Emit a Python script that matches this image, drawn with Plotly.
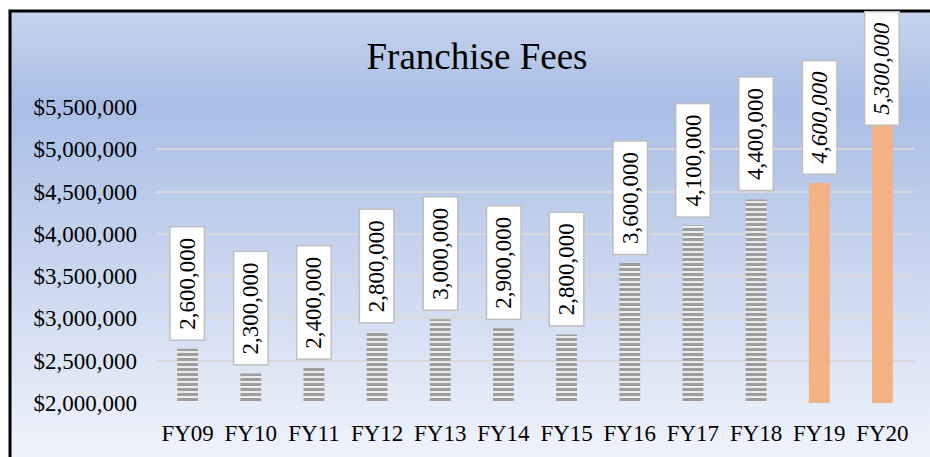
import base64
import plotly.graph_objects as go

# ---- data ----
categories = ["FY09", "FY10", "FY11", "FY12", "FY13", "FY14", "FY15", "FY16", "FY17", "FY18", "FY19", "FY20"]
fees = [2640000, 2350000, 2420000, 2840000, 2990000, 2885000, 2810000, 3655000, 4100000, 4405000, 4600000, 5300000]
label_texts = ["2,600,000", "2,300,000", "2,400,000", "2,800,000", "3,000,000", "2,900,000",
               "2,800,000", "3,600,000", "4,100,000", "4,400,000", "4,600,000", "5,300,000"]
is_forecast = [False] * 10 + [True] * 2
y_range = [2000000, 5500000]
y_dtick = 500000

# ---- layout geometry (pixels) ----
FW, FH = 930, 457
PL, PR, PT, PB = 156, 16, 107, 54
PW, PH = FW - PL - PR, FH - PT - PB
FONT = "Liberation Serif, Times New Roman, serif"


def px_to_paper_x(px):
    return (px - PL) / PW


def px_to_paper_y(py):
    return (FH - PB - py) / PH


def value_to_py(v):
    return FH - PB - (v - y_range[0]) / (y_range[1] - y_range[0]) * PH


# gradient background as SVG
svg = (
    '<svg xmlns="http://www.w3.org/2000/svg" width="100" height="100" preserveAspectRatio="none">'
    '<defs><linearGradient id="g" x1="0" y1="0" x2="0" y2="1">'
    '<stop offset="0" stop-color="#c6d4ed"/>'
    '<stop offset="0.2" stop-color="#a9bde6"/>'
    '<stop offset="0.55" stop-color="#c9d6ef"/>'
    '<stop offset="1" stop-color="#f3f6fc"/>'
    '</linearGradient></defs>'
    '<rect width="100" height="100" fill="url(#g)"/></svg>'
)
svg_uri = "data:image/svg+xml;base64," + base64.b64encode(svg.encode()).decode()

fill_colors = ["#F4B183" if f else "#f6f6f6" for f in is_forecast]
pattern_shapes = ["" if f else "-" for f in is_forecast]

fig = go.Figure()
fig.add_trace(go.Bar(
    x=categories,
    y=fees,
    width=0.33,
    marker=dict(
        color=fill_colors,
        line=dict(width=0),
        pattern=dict(shape=pattern_shapes, fgcolor="#2e2e2e", size=5, solidity=0.65),
    ),
    hoverinfo="x+y",
))

# data labels in boxes
box_h = 114
NB = "\u00a0"
for cat, val, txt, fc in zip(categories, fees, label_texts, is_forecast):
    top_px = value_to_py(val)
    shift = min(8, top_px - 12 - box_h)
    body = f"<i>{txt}</i>" if fc else txt
    fig.add_annotation(
        x=cat, y=val, xref="x", yref="y",
        text=NB + body + NB,
        textangle=-90,
        showarrow=False,
        yanchor="bottom", xanchor="center",
        yshift=shift,
        font=dict(family=FONT, size=23, color="#000000"),
        bgcolor="#ffffff",
        bordercolor="#bfbfbf",
        borderwidth=1.5,
        borderpad=4,
    )

# background image and border
fig.add_layout_image(dict(
    source=svg_uri, xref="paper", yref="paper",
    x=px_to_paper_x(10), y=px_to_paper_y(11),
    sizex=(FW + 20 - 10) / PW, sizey=(FH + 20 - 11) / PH,
    xanchor="left", yanchor="top", sizing="stretch", layer="below",
))
fig.add_shape(
    type="rect", xref="paper", yref="paper",
    x0=px_to_paper_x(10), x1=px_to_paper_x(FW + 20),
    y0=px_to_paper_y(FH + 20), y1=px_to_paper_y(11),
    line=dict(color="#000000", width=3), fillcolor="rgba(0,0,0,0)", layer="above",
)

fig.update_layout(
    width=FW, height=FH,
    margin=dict(l=PL, r=PR, t=PT, b=PB, pad=0),
    paper_bgcolor="#ffffff",
    plot_bgcolor="rgba(0,0,0,0)",
    showlegend=False,
    title=dict(
        text="Franchise Fees",
        font=dict(family=FONT, size=37, color="#000000"),
        x=477 / FW, xanchor="center", xref="container",
        y=1 - 56 / FH, yanchor="middle", yref="container",
    ),
    font=dict(family=FONT, color="#000000"),
    xaxis=dict(
        type="category",
        tickfont=dict(family=FONT, size=23, color="#000000"),
        showgrid=False, zeroline=False, showline=False,
        ticks="", ticklabelstandoff=14,
    ),
    yaxis=dict(
        range=y_range, dtick=y_dtick, tick0=y_range[0],
        tickprefix="$", tickformat=",.0f",
        tickfont=dict(family=FONT, size=23, color="#000000"),
        showgrid=True, gridcolor="#d9d9d9", gridwidth=1.5,
        zeroline=False, showline=False, ticks="",
        ticklabelstandoff=18,
    ),
)

fig.write_html(
    "out.html",
    config={"displayModeBar": False},
    post_script="document.body.style.margin='0';document.body.style.padding='0';",
)
